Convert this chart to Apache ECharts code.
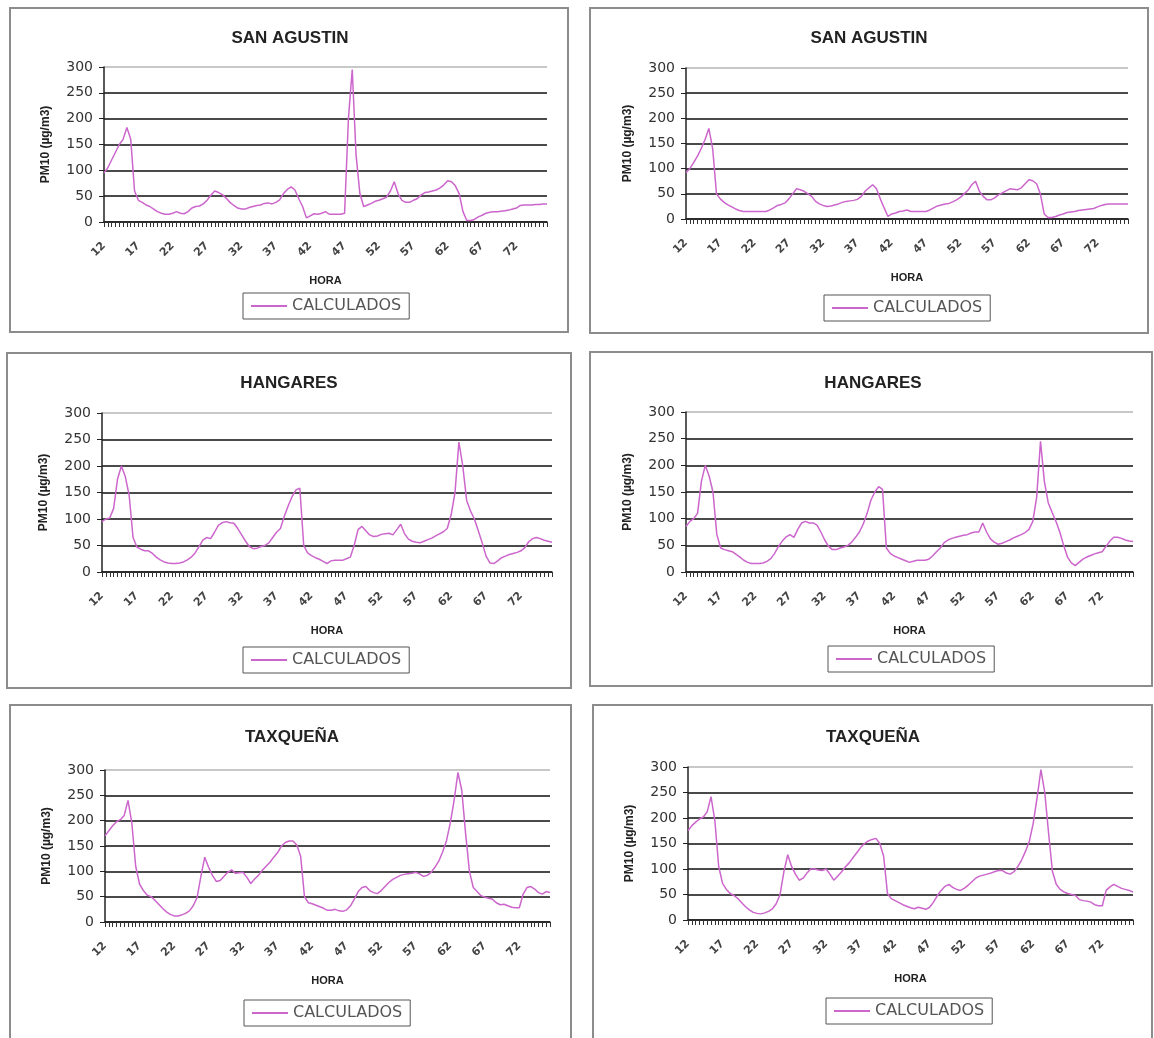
<!DOCTYPE html>
<html>
<head>
<meta charset="utf-8">
<script src="https://cdn.jsdelivr.net/npm/echarts@6/dist/echarts.min.js"></script>
<style>
html,body{margin:0;padding:0;background:#fff;}
#c{width:1154px;height:1038px;}
</style>
</head>
<body>
<div id="c"></div>
<script>
// ---- data ----
const TITLES = ['SAN AGUSTIN', 'SAN AGUSTIN', 'HANGARES', 'HANGARES', 'TAXQUEÑA', 'TAXQUEÑA'];
const SERIES_NAME = 'CALCULADOS';
const Y_NAME = 'PM10 (µg/m3)';
const X_NAME = 'HORA';
const TICK_LABELS = ['12', '17', '22', '27', '32', '37', '42', '47', '52', '57', '62', '67', '72'];

const SAN_AGUSTIN_A = [95,105,120,135,150,160,183,160,60,42,38,33,30,25,20,17,15,15,17,20,17,16,20,27,30,31,35,42,52,60,57,53,46,38,32,27,25,25,28,30,32,33,36,37,35,38,43,55,63,68,62,45,30,8,12,16,15,17,20,15,15,15,15,17,200,295,130,55,30,33,36,40,42,45,48,60,78,55,42,38,38,42,45,52,57,58,60,62,66,72,80,78,70,55,20,3,3,5,10,13,17,19,20,20,21,22,23,25,27,32,33,33,33,34,34,35,35];
const SAN_AGUSTIN_B = [92,100,112,125,140,158,180,140,50,40,33,28,24,20,17,15,15,15,15,15,15,15,18,22,27,29,32,40,50,60,58,55,50,45,35,30,27,25,26,28,30,33,35,36,37,39,45,55,62,68,60,40,22,5,10,12,15,16,18,15,15,15,15,15,18,22,26,28,30,31,34,38,43,50,57,68,75,55,45,38,38,42,48,52,56,60,59,58,62,70,78,76,70,50,10,3,3,5,8,10,13,14,15,17,18,19,20,21,24,27,29,30,30,30,30,30,30];
const HANGARES_A = [95,100,102,120,175,200,180,145,65,47,43,40,40,35,28,23,19,17,16,16,17,19,23,28,36,48,60,65,63,75,88,93,95,93,92,82,70,58,48,44,45,48,50,55,65,75,82,105,125,142,155,158,50,36,31,27,24,20,16,21,22,22,22,25,28,50,80,86,78,70,67,68,71,72,73,70,80,90,72,62,58,56,55,58,61,64,68,72,76,82,108,150,245,200,135,115,100,78,55,30,17,16,21,27,30,33,35,37,40,46,57,63,65,63,60,58,56];
const HANGARES_B = [85,95,100,110,170,200,180,150,70,45,42,40,38,33,28,22,18,16,16,16,17,20,25,35,48,58,66,70,65,80,92,95,92,92,88,75,60,48,42,42,45,47,50,56,65,75,90,110,135,150,160,155,45,35,30,27,24,21,18,20,22,22,22,24,30,38,45,55,60,63,65,67,69,70,73,75,75,92,75,62,56,52,54,57,60,64,67,70,74,80,95,140,245,170,130,112,95,75,50,28,17,12,18,24,28,31,34,36,38,48,58,65,65,63,60,58,57];
const TAXQUENA_A = [170,180,190,198,202,210,240,195,110,75,62,53,50,43,35,27,20,15,12,12,14,17,22,32,48,90,128,108,92,80,82,90,98,103,96,97,98,88,76,85,92,102,110,118,128,137,150,157,160,160,152,130,50,38,36,33,30,27,23,23,25,22,21,24,32,45,60,68,70,62,58,56,62,70,78,84,88,92,94,95,96,98,95,90,92,98,108,120,138,160,195,240,295,260,175,100,68,60,52,49,47,45,38,34,35,32,29,28,28,55,68,70,65,58,55,60,58];
const TAXQUENA_B = [175,185,192,198,202,212,242,195,105,72,60,52,48,42,34,26,20,15,13,12,14,17,22,32,50,95,128,105,90,78,82,92,100,100,98,97,100,90,78,86,94,104,112,122,132,142,150,155,158,160,150,125,52,42,38,34,30,27,24,22,25,23,21,25,35,48,58,66,70,64,60,58,62,68,75,82,86,88,90,92,95,97,97,92,90,95,105,118,135,155,190,240,295,250,170,95,70,60,55,52,50,48,40,38,37,35,30,28,28,58,65,70,66,62,60,58,55];

const PANEL_DATA = [SAN_AGUSTIN_A, SAN_AGUSTIN_B, HANGARES_A, HANGARES_B, TAXQUENA_A, TAXQUENA_B];
const HOURS = SAN_AGUSTIN_A.map((_, i) => String(i + 1));

// ---- layout (positions only) ----
const LAYOUT = [
  {box:[10,8,558,324],  grid:[104,67,443,155], title:[290,38],  legend:[243,293]},
  {box:[590,8,558,325], grid:[686,68,442,151], title:[869,38],  legend:[824,295]},
  {box:[7,353,564,335], grid:[102,413,450,159], title:[289,383], legend:[243,647]},
  {box:[590,352,562,334], grid:[686,412,447,160], title:[873,383], legend:[828,646]},
  {box:[10,705,561,345], grid:[105,770,445,152], title:[292,737], legend:[244,1000]},
  {box:[593,705,559,345], grid:[688,767,445,153], title:[873,737], legend:[826,998]}
];

const LINE_COLOR = '#cc66cc';
const grids = [], xAxes = [], yAxes = [], series = [], legends = [], graphics = [];

LAYOUT.forEach((L, k) => {
  graphics.push({
    type: 'rect', silent: true, z: 0,
    shape: {x: L.box[0], y: L.box[1], width: L.box[2], height: L.box[3]},
    style: {fill: '#fff', stroke: '#8c8c8c', lineWidth: 2}
  });
  graphics.push({
    type: 'text', silent: true, z: 10,
    x: L.title[0], y: L.title[1],
    style: {text: TITLES[k], align: 'center', verticalAlign: 'middle', textAlign: 'center', textVerticalAlign: 'middle',
            font: 'bold 17px "Liberation Sans", Arial, sans-serif', fill: '#222'}
  });
  grids.push({left: L.grid[0], top: L.grid[1], width: L.grid[2], height: L.grid[3],
              show: true, borderColor: '#c8c8c8', borderWidth: 1, backgroundColor: 'rgba(0,0,0,0)'});
  xAxes.push({
    type: 'category', gridIndex: k, data: HOURS, boundaryGap: false,
    name: X_NAME, nameLocation: 'middle', nameGap: 53,
    nameTextStyle: {fontWeight: 'bold', fontSize: 11, fontFamily: 'Liberation Sans, Arial', color: '#222'},
    axisLine: {show: true, lineStyle: {color: '#222', width: 1.5}},
    axisTick: {show: true, interval: 0, length: 5, lineStyle: {color: '#333', width: 1}},
    axisLabel: {interval: 8, rotate: 45, margin: 22, fontSize: 11, fontWeight: 'bold',
                fontFamily: 'DejaVu Sans', color: '#444',
                formatter: (v, i) => TICK_LABELS[i / 9] !== undefined ? TICK_LABELS[i / 9] : ''},
    splitLine: {show: false}
  });
  yAxes.push({
    type: 'value', gridIndex: k, min: 0, max: 300, interval: 50,
    name: Y_NAME, nameLocation: 'middle', nameRotate: 90, nameGap: 52,
    nameTextStyle: {fontWeight: 'bold', fontSize: 12, fontFamily: 'Liberation Sans, Arial', color: '#222'},
    axisLine: {show: true, lineStyle: {color: '#222', width: 1.5}},
    axisTick: {show: true, length: 5, lineStyle: {color: '#222'}},
    axisLabel: {margin: 11, fontSize: 14, fontFamily: 'DejaVu Sans', color: '#333'},
    splitLine: {show: true, lineStyle: {color: ['#4a4a4a','#4a4a4a','#4a4a4a','#4a4a4a','#4a4a4a','#4a4a4a','#c8c8c8'], width: 1.8}}
  });
  series.push({
    type: 'line', name: SERIES_NAME, xAxisIndex: k, yAxisIndex: k,
    data: PANEL_DATA[k], symbol: 'none', showSymbol: false,
    lineStyle: {color: LINE_COLOR, width: 1.5}, itemStyle: {color: LINE_COLOR}, z: 5
  });
  legends.push({
    data: [{name: SERIES_NAME, icon: 'rect'}], left: L.legend[0], top: L.legend[1],
    orient: 'horizontal', padding: [5, 8], itemWidth: 36, itemHeight: 2, itemGap: 5,
    borderColor: '#555', borderWidth: 1, backgroundColor: '#fff',
    selectedMode: false,
    itemStyle: {color: LINE_COLOR},
    textStyle: {fontSize: 16, fontFamily: 'DejaVu Sans', color: '#555', lineHeight: 16}
  });
});

const chart = echarts.init(document.getElementById('c'), null, {renderer: 'canvas'});
chart.setOption({
  animation: false,
  backgroundColor: '#fff',
  graphic: {elements: graphics},
  grid: grids, xAxis: xAxes, yAxis: yAxes, series: series, legend: legends
});
</script>
</body>
</html>
